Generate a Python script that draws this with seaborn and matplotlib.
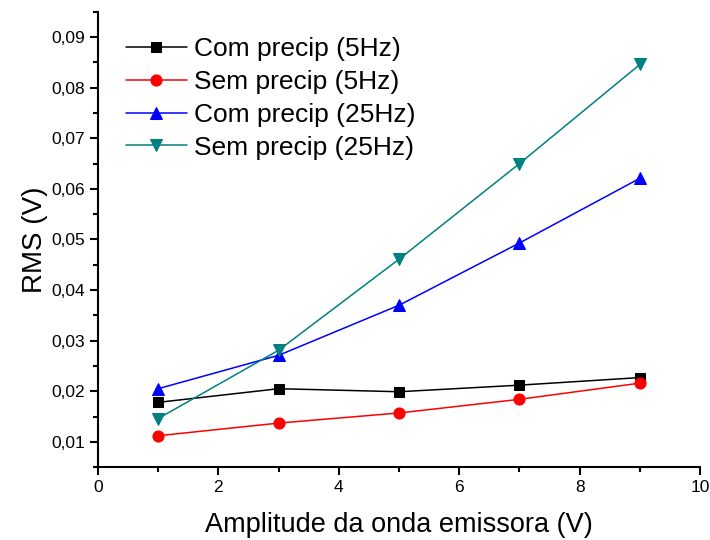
import matplotlib
matplotlib.use("Agg")
import matplotlib.pyplot as plt
from matplotlib.ticker import MultipleLocator, FuncFormatter
import seaborn as sns
import pandas as pd

sns.set_style("ticks")
plt.rcParams['font.family'] = ['Liberation Sans', 'DejaVu Sans']
plt.rcParams['text.color'] = 'black'
plt.rcParams['axes.labelcolor'] = 'black'
plt.rcParams['xtick.color'] = 'black'
plt.rcParams['ytick.color'] = 'black'

amplitude = [1, 3, 5, 7, 9]
com_5hz = [0.0178, 0.0205, 0.0199, 0.0212, 0.0227]
sem_5hz = [0.0112, 0.0137, 0.0157, 0.0184, 0.0216]
com_25hz = [0.0205, 0.0271, 0.0370, 0.0493, 0.0621]
sem_25hz = [0.0146, 0.0281, 0.0461, 0.0650, 0.0846]

labels = ["Com precip (5Hz)", "Sem precip (5Hz)", "Com precip (25Hz)", "Sem precip (25Hz)"]
series = [com_5hz, sem_5hz, com_25hz, sem_25hz]
colors = ["#000000", "#FF0000", "#0000FF", "#008080"]
markers = ["s", "o", "^", "v"]
msizes = [7, 8, 8.5, 8.5]

fig = plt.figure(figsize=(7.1, 5.4), dpi=100)
ax = fig.add_axes([0.138, 0.135, 0.848, 0.843])

for lab, vals, c, m, ms in zip(labels, series, colors, markers, msizes):
    df = pd.DataFrame({"x": amplitude, "y": vals})
    sns.lineplot(data=df, x="x", y="y", ax=ax, color=c, marker=m, markersize=ms,
                 markeredgecolor=c, linewidth=1.1, label=lab)

ax.set_xlim(0, 10)
ax.set_ylim(0.005, 0.095)
ax.xaxis.set_major_locator(MultipleLocator(2))
ax.xaxis.set_minor_locator(MultipleLocator(1))
ax.yaxis.set_major_locator(MultipleLocator(0.01))
ax.yaxis.set_minor_locator(MultipleLocator(0.005))
ax.yaxis.set_major_formatter(FuncFormatter(lambda v, p: f"{v:.2f}".replace('.', ',')))
ax.xaxis.set_major_formatter(FuncFormatter(lambda v, p: f"{v:.0f}"))
ax.tick_params(which='major', direction='out', length=6, width=1.5, labelsize=12.5,
               colors='black', labelcolor='black')
ax.tick_params(which='minor', direction='out', length=3.5, width=1.5, colors='black')
for s in ['left', 'bottom']:
    ax.spines[s].set_linewidth(1.5)
    ax.spines[s].set_color('black')
sns.despine(ax=ax)

ax.set_xlabel("Amplitude da onda emissora (V)", fontsize=19.5, labelpad=12, color='black')
ax.set_ylabel("RMS (V)", fontsize=20, labelpad=2, color='black')

leg = ax.legend(loc='upper left', bbox_to_anchor=(0.02, 0.98), frameon=False, fontsize=19,
                handlelength=2.3, handletextpad=0.3, labelspacing=0.34, borderaxespad=0.2)
for t in leg.get_texts():
    t.set_color('black')

fig.savefig("out.png", dpi=100)
